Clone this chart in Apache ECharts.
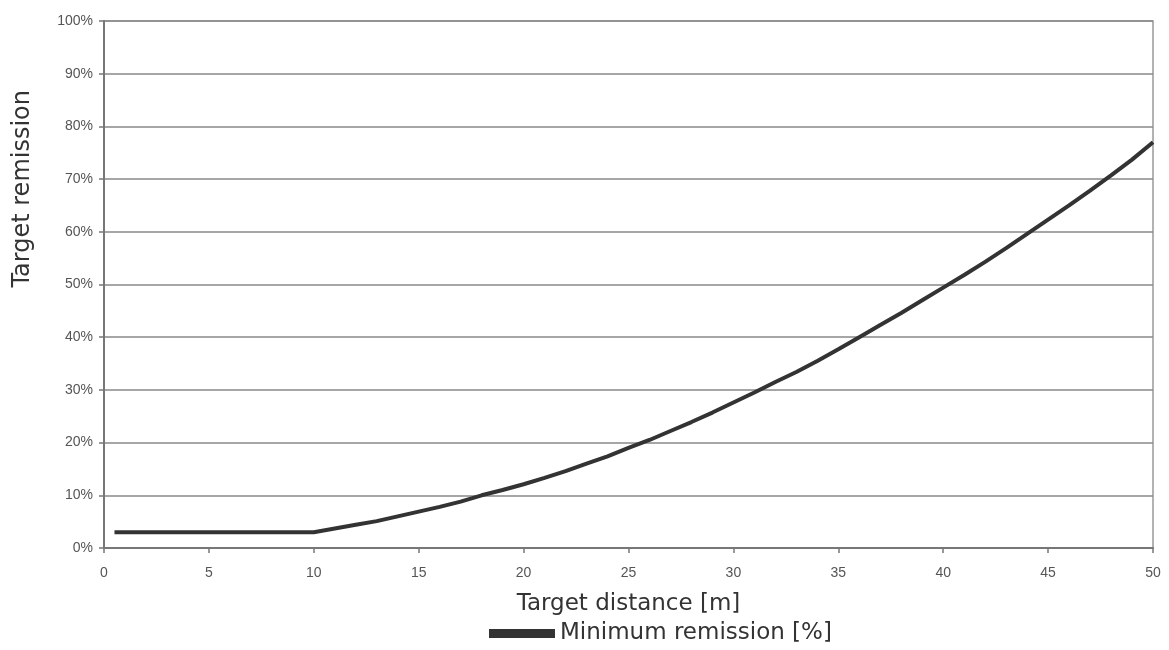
<!DOCTYPE html>
<html><head><meta charset="utf-8">
<script src="https://cdn.jsdelivr.net/npm/echarts@6/dist/echarts.min.js"></script>
<style>html,body{margin:0;padding:0;background:#fff}#c{width:1169px;height:650px}</style>
</head><body><div id="c"></div>
<script>
const distances = [0.5,1,2,3,4,5,6,7,8,9,10,11,12,13,14,15,16,17,18,19,20,21,22,23,24,25,26,27,28,29,30,31,32,33,34,35,36,37,38,39,40,41,42,43,44,45,46,47,48,49,50];
const remission = [3,3,3,3,3,3,3,3,3,3,3,3.7,4.4,5.1,6.0,6.9,7.8,8.8,10.0,11.0,12.1,13.3,14.6,16.0,17.4,19.0,20.5,22.2,23.9,25.7,27.6,29.5,31.5,33.4,35.5,37.7,40.0,42.3,44.6,47.0,49.4,51.8,54.3,56.9,59.6,62.3,65.0,67.8,70.7,73.7,77.0];
const seriesName = 'Minimum remission [%]';
const xName = 'Target distance [m]';
const yName = 'Target remission';

const font = '"DejaVu Sans", sans-serif';
const tickFont = '"Liberation Sans", Arial, sans-serif';
const chart = echarts.init(document.getElementById('c'), null, {renderer:'canvas'});
chart.setOption({
  animation:false,
  grid:{left:104,right:16,top:21,bottom:102,show:true,borderColor:'#999',borderWidth:1.5,backgroundColor:'#fff'},
  legend:{top:617,left:484,itemWidth:66,itemHeight:9,icon:'rect',itemGap:12,
    textStyle:{fontSize:23,color:'#333',fontFamily:font},
    data:[seriesName]},
  graphic:[{type:'text',left:11,top:90,
    style:{text:yName,fontSize:24,fill:'#333',fontFamily:font},
    rotation:Math.PI/2}],
  xAxis:{type:'value',min:0,max:50,interval:5,
    name:xName,nameLocation:'middle',nameGap:45,
    nameTextStyle:{fontSize:23,color:'#333',fontFamily:font},
    axisLine:{show:true,lineStyle:{color:'#777',width:2}},
    axisTick:{show:true,length:5,lineStyle:{color:'#777',width:1.5}},
    axisLabel:{fontSize:14,color:'#555',margin:18,fontFamily:tickFont},
    splitLine:{show:false}},
  yAxis:{type:'value',min:0,max:100,interval:10,
    axisLine:{show:true,lineStyle:{color:'#777',width:2}},
    axisTick:{show:true,length:5,lineStyle:{color:'#777',width:1.5}},
    axisLabel:{fontSize:14,color:'#555',margin:11,fontFamily:tickFont,formatter:'{value}%'},
    splitLine:{show:true,lineStyle:{color:'#888',width:1.5}}},
  series:[{name:seriesName,type:'line',showSymbol:false,symbol:'none',
    data:distances.map((d,i)=>[d,remission[i]]),
    lineStyle:{color:'#333',width:4},itemStyle:{color:'#333'}}]
});
</script></body></html>
